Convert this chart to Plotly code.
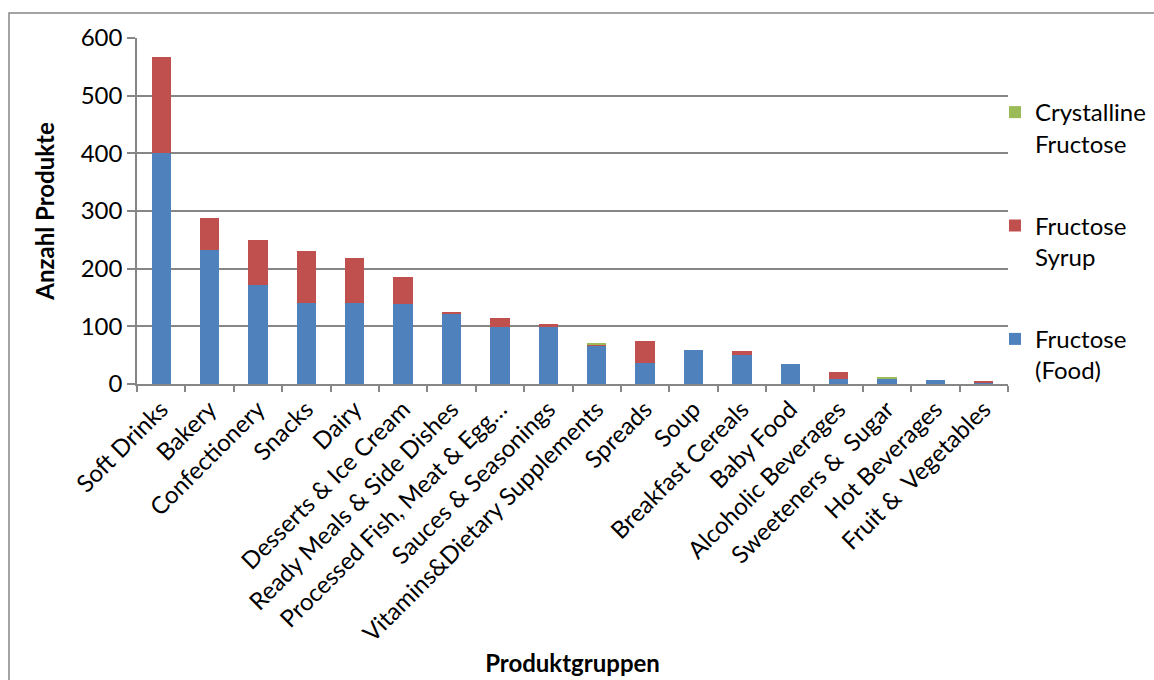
import plotly.graph_objects as go

categories = ["Soft Drinks", "Bakery", "Confectionery", "Snacks", "Dairy",
              "Desserts & Ice Cream", "Ready Meals & Side Dishes",
              "Processed Fish, Meat & Egg\u2026", "Sauces & Seasonings",
              "Vitamins&Dietary Supplements", "Spreads", "Soup",
              "Breakfast Cereals", "Baby Food", "Alcoholic Beverages",
              "Sweeteners &\u00a0 Sugar", "Hot Beverages", "Fruit &\u00a0 Vegetables"]
fructose_food = [400, 233, 171, 140, 140, 138, 121, 99, 98, 67, 37, 59, 50, 34, 9, 9, 7, 3]
fructose_syrup = [167, 55, 79, 90, 78, 48, 4, 16, 6, 2, 37, 0, 7, 0, 12, 0, 0, 2]
crystalline = [0, 0, 0, 0, 0, 0, 0, 0, 0, 2, 0, 0, 0, 0, 0, 2, 0, 0]

FONT = "Lato"
FS = 24
GRID = "#868686"

fig = go.Figure()
fig.add_trace(go.Bar(x=categories, y=fructose_food, name="Fructose<br>(Food)",
                     marker=dict(color="#4F81BD", line=dict(width=0)),
                     legendgroup="food", legendrank=3))
fig.add_trace(go.Bar(x=categories, y=fructose_syrup, name="Fructose<br>Syrup",
                     marker=dict(color="#C0504D", line=dict(width=0)),
                     legendgroup="syrup", legendrank=2))
fig.add_trace(go.Bar(x=categories, y=crystalline, name="Crystalline<br>Fructose",
                     marker=dict(color="#9BBB59", line=dict(width=0)),
                     legendgroup="cryst", legendrank=1))

fig.update_layout(
    width=1154, height=680,
    barmode="stack", bargap=0.6,
    paper_bgcolor="white", plot_bgcolor="white",
    font=dict(family=FONT, size=FS, color="black"),
    margin=dict(l=137, r=146, t=38, b=296, autoexpand=False),
    legend=dict(
        xref="container", yref="container",
        x=995 / 1154, y=1 - 90 / 680, xanchor="left", yanchor="top",
        traceorder="grouped", tracegroupgap=48,
        valign="top", font=dict(family=FONT, size=FS, color="black"),
        bgcolor="rgba(0,0,0,0)",
    ),
    xaxis=dict(
        tickangle=-45, tickson="boundaries", ticks="outside", ticklen=6,
        tickcolor=GRID, tickwidth=1.5, showline=True, linecolor=GRID, linewidth=1.5,
        showgrid=False, tickfont=dict(family=FONT, size=FS), automargin=False,
        title=dict(text="<b>Produktgruppen</b>", font=dict(family=FONT, size=FS), standoff=9),
    ),
    yaxis=dict(
        range=[0, 600], dtick=100, ticks="outside", ticklen=8, tickcolor=GRID,
        tickwidth=1.5, showline=True, linecolor=GRID, linewidth=1.5,
        showgrid=True, gridcolor=GRID, gridwidth=1.5, zeroline=False,
        tickfont=dict(family=FONT, size=FS), automargin=False,
        title=dict(text="<b>Anzahl Produkte</b>", font=dict(family=FONT, size=FS), standoff=19),
    ),
    shapes=[dict(type="rect", xref="paper", yref="paper",
                 x0=(9 - 137) / 871, x1=1.3, y0=-1.2, y1=(384 - 13) / 346,
                 line=dict(color=GRID, width=1.5), fillcolor="rgba(0,0,0,0)", layer="below")],
)

fig.write_html("out.html")
